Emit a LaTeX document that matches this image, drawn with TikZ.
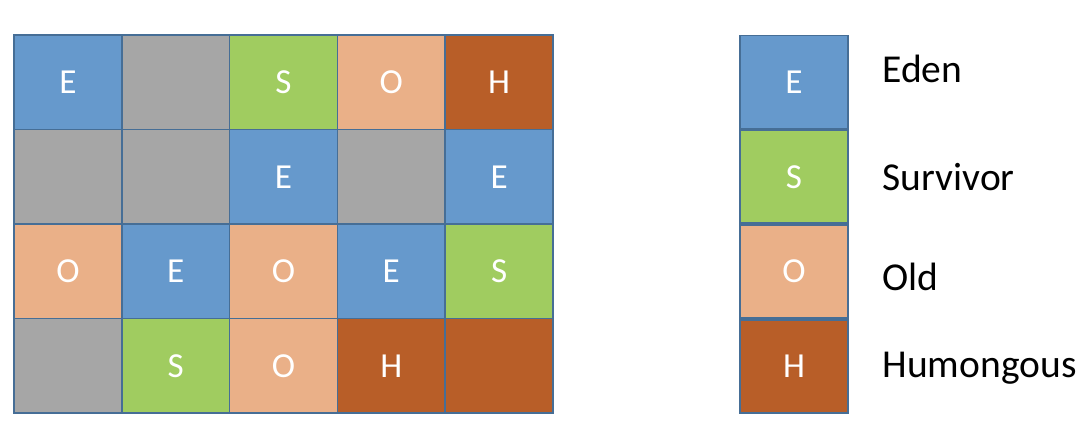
\documentclass[tikz,border=0pt]{standalone}
\usepackage{fontspec}
\setmainfont{Carlito}
\usetikzlibrary{positioning}
\definecolor{edenblue}{RGB}{102,153,204}
\definecolor{freegray}{RGB}{166,166,166}
\definecolor{survgreen}{RGB}{160,204,96}
\definecolor{oldorange}{RGB}{234,176,136}
\definecolor{humbrown}{RGB}{184,94,40}
\definecolor{edgeblue}{RGB}{70,110,150}

\begin{document}
\begin{tikzpicture}[x=0.02cm, y=-0.02cm,
		region/.style={draw=edgeblue, line width=1pt, minimum width=2.156cm, minimum height=1.89cm, inner sep=0pt, text=white, font=\fontsize{20}{20}\selectfont},
		eden/.style={region, fill=edenblue},
		free/.style={region, fill=freegray},
		surv/.style={region, fill=survgreen},
		old/.style={region, fill=oldorange},
		hum/.style={region, fill=humbrown},
		legcell/.style={minimum height=1.86cm},
		legtext/.style={font=\fontsize{22.5}{22.5}\selectfont, right=0.55cm of #1}]
	\useasboundingbox (0,0) rectangle (1082,426);
	
	% heap regions
	\foreach \row [count=\r] in {{eden/E,free/,surv/S,old/O,hum/H},{free/,free/,eden/E,free/,eden/E},{old/O,eden/E,old/O,eden/E,surv/S},{free/,surv/S,old/O,hum/H,hum/}}
	{
		\foreach \kind/\txt [count=\c] in \row
		\node[\kind] (cell-\r-\c) at ({14+(\c-1)*107.8+53.9}, {35+(\r-1)*94.5+47.25}) {\txt};
	}
	
	% legend
	\node[eden, legcell] (legE) at (794,82) {E};
	\node[surv, legcell, below=0pt of legE] (legS) {S};
	\node[old, legcell, below=0pt of legS] (legO) {O};
	\node[hum, legcell, below=0pt of legO] (legH) {H};
	
	\node[legtext=legE, yshift=0.26cm] (txtE) {Eden};
	\node[legtext=legS] (txtS) {Survivor};
	\node[legtext=legO, yshift=-0.1cm] (txtO) {Old};
	\node[legtext=legH, yshift=-0.04cm] (txtH) {Humongous};
\end{tikzpicture}
\end{document}
